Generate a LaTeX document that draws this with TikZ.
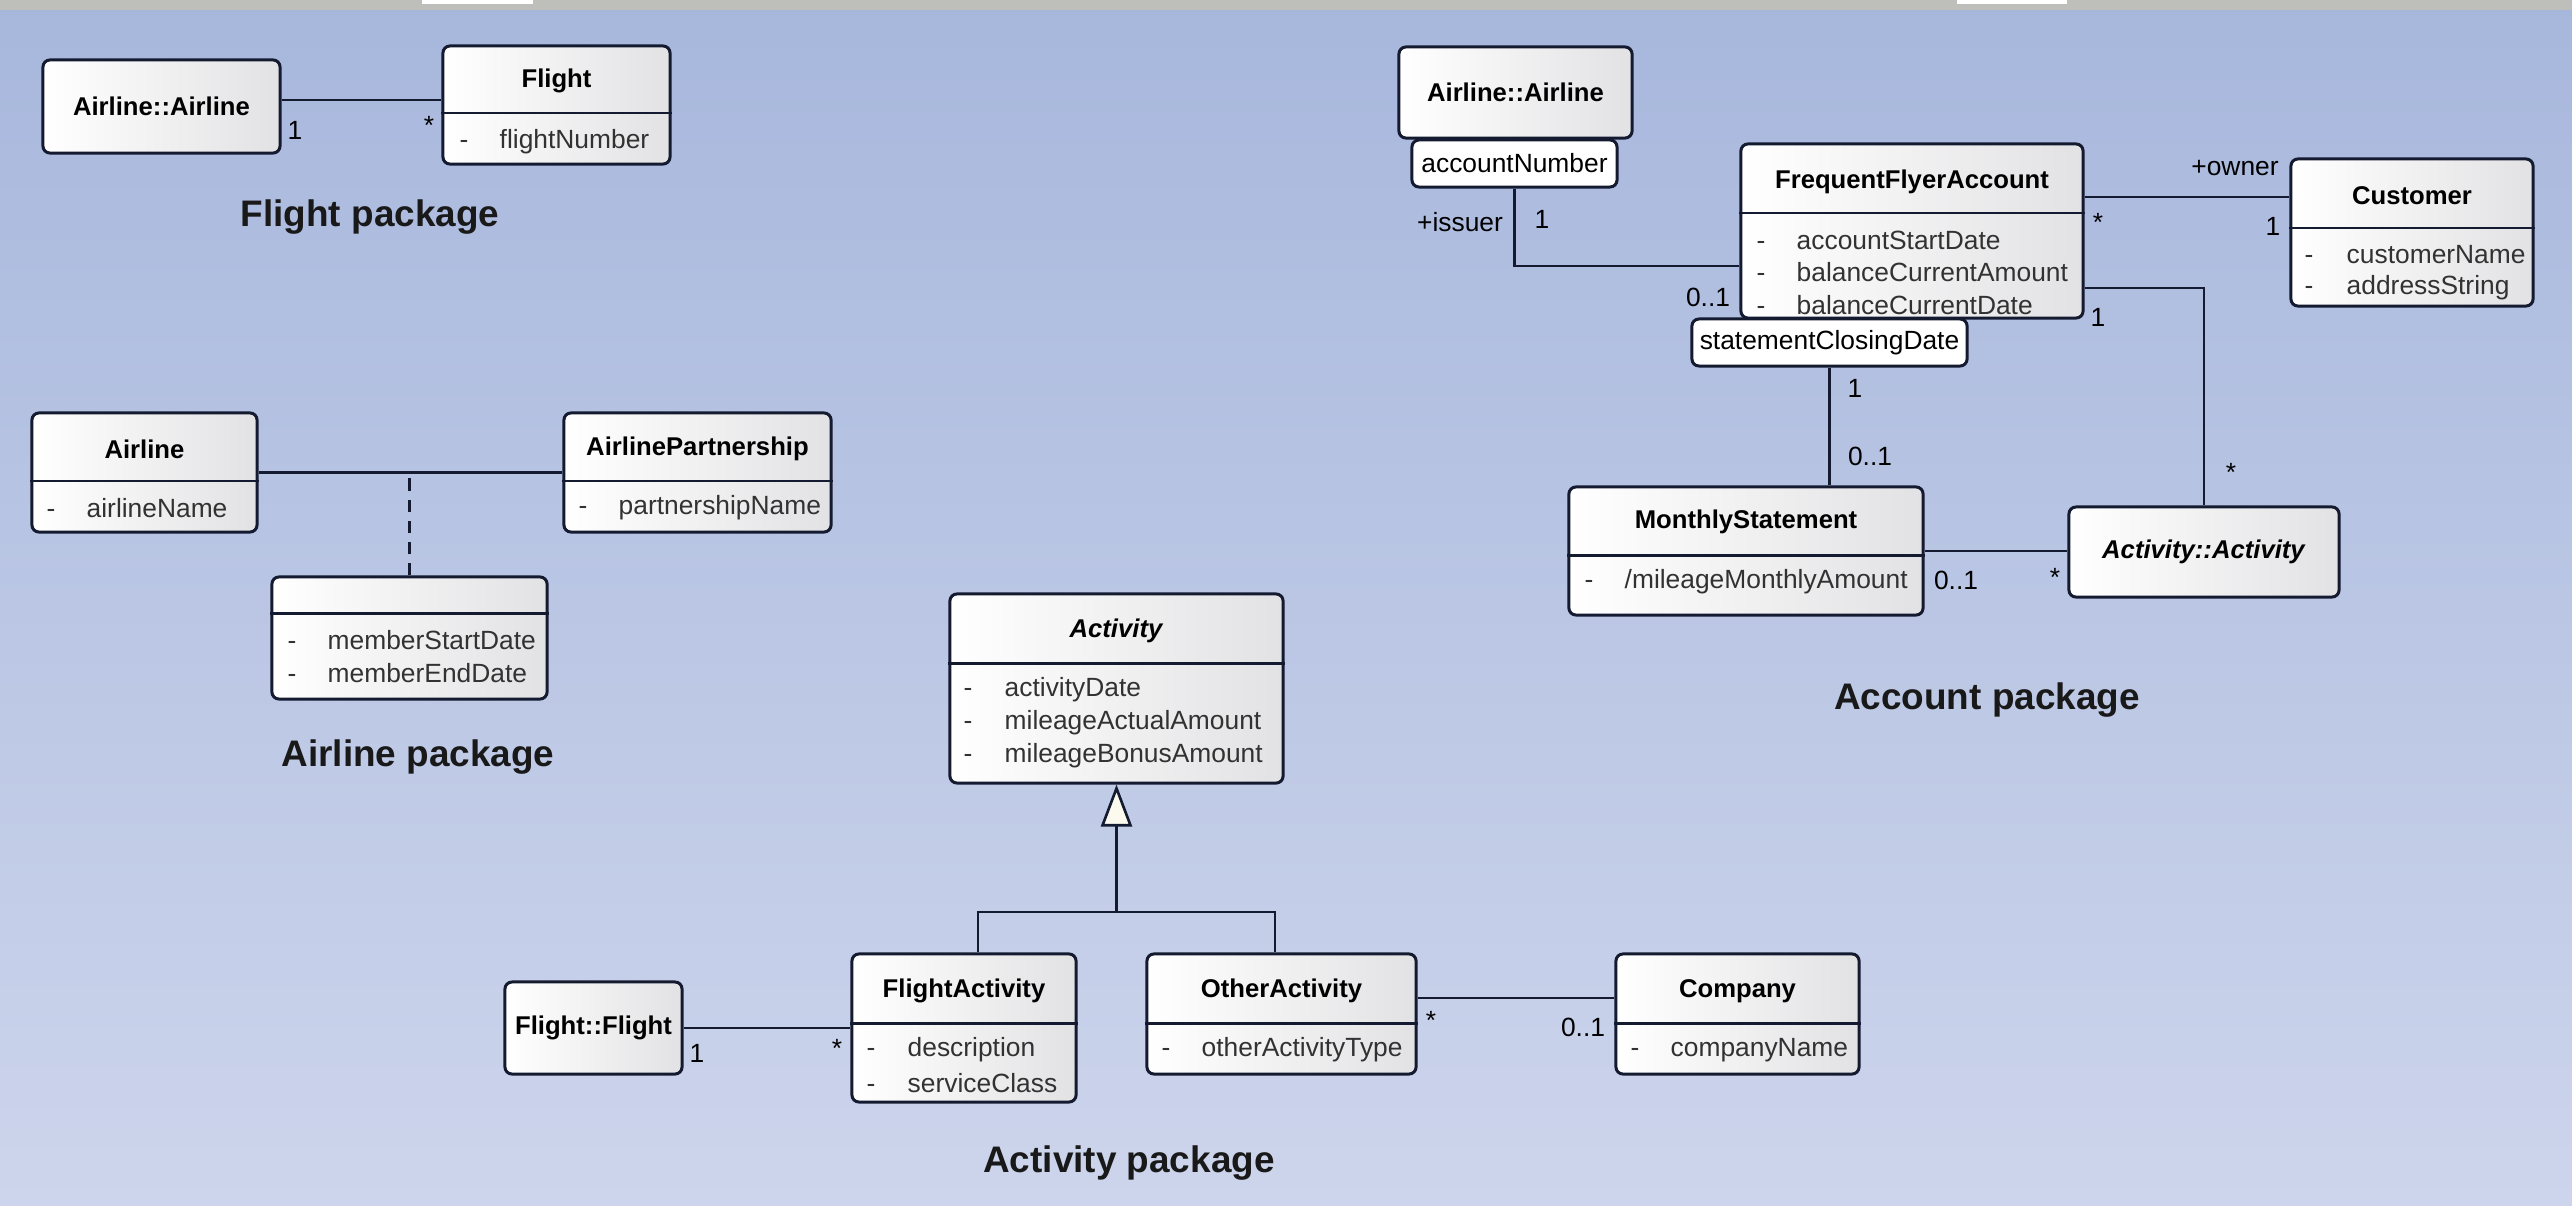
\documentclass[tikz,border=0pt]{standalone}
\usepackage{fontspec}
\setmainfont{Liberation Sans}
\usetikzlibrary{arrows.meta}

\definecolor{bgtop}{RGB}{167,183,220}
\definecolor{bgmid}{RGB}{181,195,226}
\definecolor{bgbot}{RGB}{205,213,236}
\definecolor{stripgray}{RGB}{190,190,186}
\definecolor{linecol}{RGB}{20,26,48}
\definecolor{boxgray}{RGB}{226,226,228}
\definecolor{attrcol}{RGB}{50,50,50}
\definecolor{tricol}{RGB}{252,250,238}

\tikzset{
  cls/.style={draw=linecol, line width=0.85pt, rounded corners=2pt,
    left color=white, right color=boxgray, inner sep=0pt},
  qual/.style={draw=linecol, line width=0.85pt, rounded corners=2pt, fill=white,
    inner sep=0pt, font=\fontsize{7.5}{9}\selectfont},
  clsname/.style={font=\fontsize{7.3}{9}\selectfont\bfseries, text=black, inner sep=0pt},
  attr/.style={font=\fontsize{7.5}{9}\selectfont, text=attrcol, anchor=west, inner sep=0pt},
  mult/.style={font=\fontsize{7.5}{9}\selectfont, text=black, inner sep=0pt},
  pkg/.style={font=\fontsize{10.5}{12}\selectfont\bfseries, text=black!90},
  assoc/.style={draw=linecol, line width=0.75pt},
  divider/.style={draw=linecol, line width=0.85pt}
}

\begin{document}
\begin{tikzpicture}[x=0.01cm, y=-0.01cm]

\useasboundingbox (0,0) rectangle (2572,1206);
\shade[top color=bgtop, middle color=bgmid, bottom color=bgbot] (0,0) rectangle (2572,1206);
\fill[stripgray] (0,0) rectangle (2572,10);
\fill[white] (422,0) rectangle (533,4);
\fill[white] (1957,0) rectangle (2067,4);

% Flight package
\node[cls, clsname, minimum width=2.37cm, minimum height=0.93cm] (airF) at (161.5,106.5) {Airline::Airline};
\node[cls, minimum width=2.27cm, minimum height=1.18cm] (flight) at (556.5,105) {};
\node[clsname] (flightN) at (556.5,81) {Flight};
\draw[divider] (flight.west |- 0,113) -- (flight.east |- 0,113);
\node[attr] (flightA1) at (459,142) {\makebox[0.4cm][l]{-}flightNumber};

\draw[assoc] ([yshift=0.065cm]airF.east) -- ([yshift=0.065cm]airF.east -| flight.west);
\node[mult] (mF1) at (295,130) {1};
\node[mult] (mF2) at (429,125) {*};

\node[pkg] (flightPkg) at (370,217) {Flight package};

% Airline package
\node[cls, minimum width=2.25cm, minimum height=1.19cm] (airline) at (144.5,472.5) {};
\node[clsname] (airlineN) at (144.5,449) {Airline};
\draw[divider] (airline.west |- 0,481) -- (airline.east |- 0,481);
\node[attr] (airlineA1) at (46,508) {\makebox[0.4cm][l]{-}airlineName};

\node[cls, minimum width=2.67cm, minimum height=1.19cm] (partner) at (697.5,472.5) {};
\node[clsname] (partnerN) at (697.5,449) {AirlinePartnership};
\draw[divider] (partner.west |- 0,481) -- (partner.east |- 0,481);
\node[attr] (partnerA1) at (578,508) {\makebox[0.4cm][l]{-}partnershipName};

\node[cls, minimum width=2.75cm, minimum height=1.22cm] (member) at (409.5,638) {};
\draw[divider] (member.west |- 0,613) -- (member.east |- 0,613);
\foreach \t [count=\i] in {memberStartDate, memberEndDate}
    \node[attr] (memberA\i) at (287,{640+33*(\i-1)}) {\makebox[0.4cm][l]{-}\t};

\draw[assoc] (airline.east) -- (partner.west);
\draw[assoc, dash pattern=on 3.6pt off 2.4pt] (member.north) -- (member.north |- airline.east);

\node[pkg] (airlinePkg) at (418,757) {Airline package};

% Account package
\node[cls, clsname, minimum width=2.33cm, minimum height=0.91cm] (airA) at (1515.5,92.5) {Airline::Airline};
\node[qual, minimum width=2.05cm, minimum height=0.47cm] (accNum) at (1514.5,163.5) {accountNumber};

\node[cls, minimum width=3.42cm, minimum height=1.74cm] (ffa) at (1912,231) {};
\node[clsname] (ffaN) at (1912,182) {FrequentFlyerAccount};
\draw[divider] (ffa.west |- 0,213) -- (ffa.east |- 0,213);
\foreach \t [count=\i] in {accountStartDate, balanceCurrentAmount, balanceCurrentDate}
    \node[attr] (ffaA\i) at (1756,{240+32.5*(\i-1)}) {\makebox[0.4cm][l]{-}\t};
\node[qual, minimum width=2.75cm, minimum height=0.47cm] (stmt) at (1829.5,342.5) {statementClosingDate};

\node[cls, minimum width=2.42cm, minimum height=1.47cm] (customer) at (2412,232.5) {};
\node[clsname] (customerN) at (2412,196) {Customer};
\draw[divider] (customer.west |- 0,228) -- (customer.east |- 0,228);
\foreach \t [count=\i] in {customerName, addressString}
    \node[attr] (customerA\i) at (2304,{255+33*(\i-1)}) {\makebox[0.42cm][l]{-}\t};

\node[cls, minimum width=3.54cm, minimum height=1.28cm] (ms) at (1746,551) {};
\node[clsname] (msN) at (1746,522) {MonthlyStatement};
\draw[divider] (ms.west |- 0,555) -- (ms.east |- 0,555);
\node[attr] (msA1) at (1584,582) {\makebox[0.4cm][l]{-}/mileageMonthlyAmount};

\node[cls, clsname, minimum width=2.70cm, minimum height=0.90cm] (actA) at (2204,552) {\textit{Activity::Activity}};

\draw[assoc] (accNum.south) |- ([yshift=-0.35cm]ffa.west);
\draw[assoc] ([yshift=0.34cm]ffa.east) -- ([yshift=0.34cm]ffa.east -| customer.west);
\draw[assoc] ([yshift=-0.57cm]ffa.east) -| (actA.north);
\draw[assoc] (stmt.south) -- (stmt.south |- ms.north);
\draw[assoc] (ms.east) -- (ms.east -| actA.west);

\node[mult] (mA1) at (1460,222) {+issuer};
\node[mult] (mA2) at (1542,219) {1};
\node[mult] (mA3) at (1708,297) {0..1};
\node[mult] (mA4) at (2235,168) {+owner};
\node[mult] (mA5) at (2098,222) {*};
\node[mult] (mA6) at (2273,226) {1};
\node[mult] (mA7) at (2098,317) {1};
\node[mult] (mA8) at (2231,472) {*};
\node[mult] (mA9) at (1855,388) {1};
\node[mult] (mA10) at (1870,456) {0..1};
\node[mult] (mA11) at (1956,580) {0..1};
\node[mult] (mA12) at (2055,577) {*};

\node[pkg] (accountPkg) at (1987,700) {Account package};

% Activity package
\node[cls, minimum width=3.33cm, minimum height=1.89cm] (act) at (1116.5,688.5) {};
\node[clsname] (actN) at (1116.5,631) {\textit{Activity}};
\draw[divider] (act.west |- 0,663) -- (act.east |- 0,663);
\foreach \t [count=\i] in {activityDate, mileageActualAmount, mileageBonusAmount}
    \node[attr] (actA\i) at (963,{690+33*(\i-1)}) {\makebox[0.41cm][l]{-}\t};

\node[cls, minimum width=2.24cm, minimum height=1.48cm] (fa) at (964,1028) {};
\node[clsname] (faN) at (964,991) {FlightActivity};
\draw[divider] (fa.west |- 0,1023) -- (fa.east |- 0,1023);
\foreach \t [count=\i] in {description, serviceClass}
    \node[attr] (faA\i) at (866,{1050+33*(\i-1)}) {\makebox[0.41cm][l]{-}\t};

\node[cls, minimum width=2.69cm, minimum height=1.20cm] (oa) at (1281.5,1014) {};
\node[clsname] (oaN) at (1281.5,991) {OtherActivity};
\draw[divider] (oa.west |- 0,1023) -- (oa.east |- 0,1023);
\node[attr] (oaA1) at (1161,1050) {\makebox[0.4cm][l]{-}otherActivityType};

\node[cls, minimum width=2.43cm, minimum height=1.20cm] (company) at (1737.5,1014) {};
\node[clsname] (companyN) at (1737.5,991) {Company};
\draw[divider] (company.west |- 0,1023) -- (company.east |- 0,1023);
\node[attr] (companyA1) at (1630,1050) {\makebox[0.4cm][l]{-}companyName};

\node[cls, clsname, minimum width=1.77cm, minimum height=0.92cm] (ff) at (593.5,1028) {Flight::Flight};

\coordinate (gen) at (1116.5,912);
\draw[assoc] ([xshift=0.14cm]fa.north) |- (gen) -| ([xshift=-0.065cm]oa.north);
\draw[assoc, -{Triangle[length=0.42cm, width=0.31cm, fill=tricol]}] (gen) -- (act.south);
\draw[assoc] (ff.east) -- (fa.west);
\draw[assoc] ([yshift=0.16cm]oa.east) -- ([yshift=0.16cm]oa.east -| company.west);

\node[mult] (mC1) at (697,1053) {1};
\node[mult] (mC2) at (837,1048) {*};
\node[mult] (mC3) at (1431,1020) {*};
\node[mult] (mC4) at (1583,1027) {0..1};

\node[pkg] (activityPkg) at (1129,1163) {Activity package};

\end{tikzpicture}
\end{document}
